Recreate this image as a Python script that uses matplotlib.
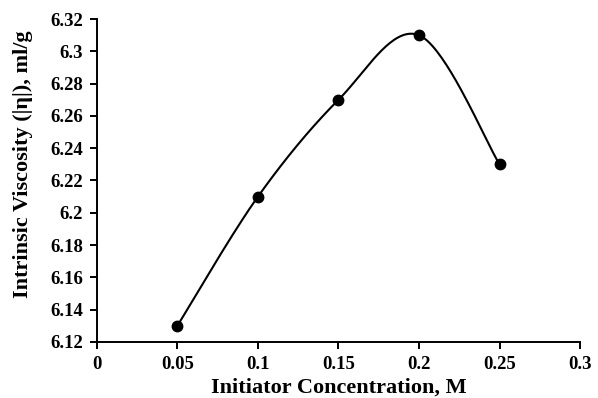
import numpy as np
import matplotlib
matplotlib.use("Agg")
import matplotlib.pyplot as plt

conc = [0.05, 0.1, 0.15, 0.2, 0.25]
visc = [6.13, 6.21, 6.27, 6.31, 6.23]
x_ticks = [0, 0.05, 0.1, 0.15, 0.2, 0.25, 0.3]
y_ticks = [6.12, 6.14, 6.16, 6.18, 6.2, 6.22, 6.24, 6.26, 6.28, 6.3, 6.32]


def fmt(v):
    s = ("%.2f" % v).rstrip("0").rstrip(".")
    return s


def smooth(xs, ys, n=40):
    """ Excel-style smoothed line (Catmull-Rom as cubic Bezier). """
    p = np.column_stack([xs, ys]).astype(float)
    p = np.vstack([p[0], p, p[-1]])
    out = []
    t = np.linspace(0, 1, n)[:, None]
    for i in range(1, len(p) - 2):
        p0, p1 = p[i], p[i + 1]
        c1 = p0 + (p[i + 1] - p[i - 1]) / 6
        c2 = p1 - (p[i + 2] - p[i]) / 6
        seg = ((1 - t) ** 3 * p0 + 3 * (1 - t) ** 2 * t * c1
               + 3 * (1 - t) * t ** 2 * c2 + t ** 3 * p1)
        out.append(seg)
    out = np.vstack(out)
    return out[:, 0], out[:, 1]


plt.rcParams["font.family"] = ["Liberation Serif", "DejaVu Serif"]
plt.rcParams["font.weight"] = "bold"

fig = plt.figure(figsize=(5.98, 3.98), dpi=100)
ax = fig.add_axes([0.162, 0.141, 0.808, 0.811])

sx, sy = smooth(conc, visc)
ax.plot(sx, sy, color="black", lw=1.5)
ax.plot(conc, visc, "o", color="black", ms=7.5)

ax.set_xlim(0, 0.3)
ax.set_ylim(6.12, 6.32)
ax.set_xticks(x_ticks)
ax.set_xticklabels([fmt(v) for v in x_ticks])
ax.set_yticks(y_ticks)
ax.set_yticklabels([fmt(v) for v in y_ticks])

for side in ["top", "right"]:
    ax.spines[side].set_visible(False)
for side in ["left", "bottom"]:
    ax.spines[side].set_linewidth(1.4)
ax.tick_params(direction="out", length=5, width=1.4, labelsize=13.5, pad=5)
for lab in ax.get_xticklabels() + ax.get_yticklabels():
    lab.set_fontweight("bold")

ax.set_xlabel("Initiator Concentration, M", fontsize=16, fontweight="bold")
ax.set_ylabel("Intrinsic Viscosity (|\u03b7|), ml/g", fontsize=16, fontweight="bold")
ax.xaxis.set_label_coords(0.5, -0.11)
ax.yaxis.set_label_coords(-0.133, 0.55)

fig.savefig("out.png", dpi=100)
